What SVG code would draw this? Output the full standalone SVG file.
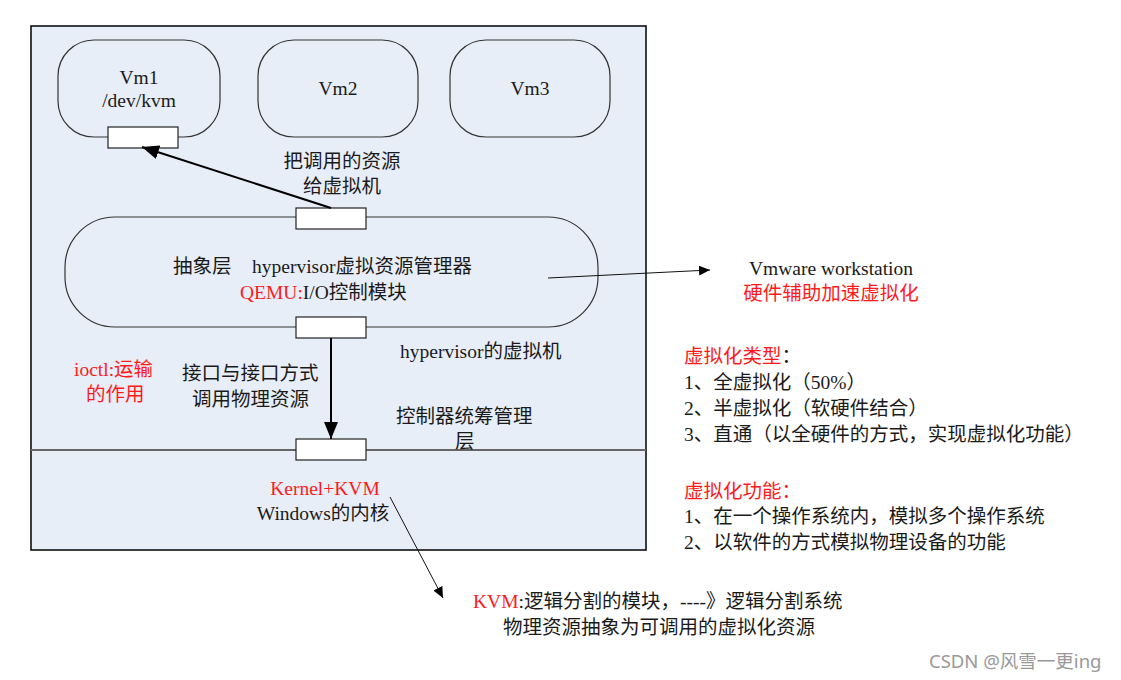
<svg xmlns="http://www.w3.org/2000/svg" width="1121" height="680" viewBox="0 0 1121 680">
<style>
.t{font-family:"Liberation Serif","Noto Sans CJK SC",serif;font-size:19.5px;fill:#1a1a1a}
.r{fill:#ff1a1a}
.node{fill:none;stroke:#333;stroke-width:1.2}
.port{fill:#fff;stroke:#222;stroke-width:1.2}
.thin{stroke:#111;stroke-width:1;fill:none}
.thick{stroke:#000;stroke-width:2;fill:none}
.wm{font-family:"Noto Sans","Noto Sans CJK SC",sans-serif;font-size:18.5px;fill:#999}
</style>
<defs>
<marker id="big" markerUnits="userSpaceOnUse" markerWidth="18" markerHeight="14" refX="17" refY="7" orient="auto"><path d="M0,0 L17,7 L0,14 z" fill="#000"/></marker>
<marker id="small" markerUnits="userSpaceOnUse" markerWidth="12" markerHeight="10" refX="11" refY="5" orient="auto"><path d="M0,0 L11,5 L0,10 z" fill="#000"/></marker>
</defs>
<rect width="1121" height="680" fill="#fff"/>
<g id="host">
<rect x="31" y="26" width="615" height="524" fill="#e8eef8" stroke="#000" stroke-width="1.5"/>
<line x1="31" y1="450" x2="646" y2="450" stroke="#666" stroke-width="2"/>
</g>
<g id="vm1">
<rect class="node" x="58" y="40" width="162" height="97" rx="36"/>
<text class="t" x="139" y="84" text-anchor="middle">Vm1</text>
<text class="t" x="139" y="107" text-anchor="middle">/dev/kvm</text>
<rect class="port" x="108" y="127" width="70" height="21"/>
</g>
<g id="vm2">
<rect class="node" x="258" y="40" width="160" height="97" rx="36"/>
<text class="t" x="338" y="95" text-anchor="middle">Vm2</text>
</g>
<g id="vm3">
<rect class="node" x="450" y="40" width="160" height="97" rx="36"/>
<text class="t" x="530" y="95" text-anchor="middle">Vm3</text>
</g>
<g id="hypervisor">
<rect class="node" x="65" y="217" width="533" height="110" rx="50"/>
<rect class="port" x="296" y="208" width="70" height="21"/>
<rect class="port" x="296" y="317" width="70" height="21"/>
<text class="t" x="173" y="273">抽象层</text>
<text class="t" x="252" y="273">hypervisor虚拟资源管理器</text>
<text class="t" x="240" y="299"><tspan class="r">QEMU:</tspan>I/O控制模块</text>
</g>
<g id="kernel">
<rect class="port" x="296" y="439" width="70" height="21"/>
<text class="t r" x="325" y="495" text-anchor="middle">Kernel+KVM</text>
<text class="t" x="323" y="520" text-anchor="middle">Windows的内核</text>
</g>
<g id="connectors">
<line class="thick" x1="331" y1="208" x2="142" y2="147" marker-end="url(#big)"/>
<line class="thick" x1="331" y1="338" x2="331" y2="439" marker-end="url(#big)"/>
<line class="thin" x1="548" y1="278" x2="710" y2="270" marker-end="url(#small)"/>
<line class="thin" x1="390" y1="497" x2="443" y2="598" marker-end="url(#small)"/>
</g>
<g id="labels">
<text class="t" x="342" y="168" text-anchor="middle">把调用的资源</text>
<text class="t" x="342" y="193" text-anchor="middle">给虚拟机</text>
<text class="t" x="400" y="358">hypervisor的虚拟机</text>
<text class="t r" x="74" y="376">ioctl:运输</text>
<text class="t r" x="86" y="401">的作用</text>
<text class="t" x="182" y="380">接口与接口方式</text>
<text class="t" x="192" y="406">调用物理资源</text>
<text class="t" x="396" y="423">控制器统筹管理</text>
<text class="t" x="455" y="448">层</text>
<text class="t" x="831" y="275" text-anchor="middle">Vmware workstation</text>
<text class="t r" x="831" y="300" text-anchor="middle">硬件辅助加速虚拟化</text>
<text class="t" x="684" y="363"><tspan class="r">虚拟化类型</tspan>：</text>
<text class="t" x="684" y="389">1、全虚拟化（50%）</text>
<text class="t" x="684" y="415">2、半虚拟化（软硬件结合）</text>
<text class="t" x="684" y="441">3、直通（以全硬件的方式，实现虚拟化功能）</text>
<text class="t" x="684" y="498"><tspan class="r">虚拟化功能：</tspan></text>
<text class="t" x="684" y="523">1、在一个操作系统内，模拟多个操作系统</text>
<text class="t" x="684" y="549">2、以软件的方式模拟物理设备的功能</text>
<text class="t" x="473" y="608"><tspan class="r">KVM</tspan>:逻辑分割的模块，----》逻辑分割系统</text>
<text class="t" x="503" y="634">物理资源抽象为可调用的虚拟化资源</text>
<text class="wm" x="929" y="668">CSDN @风雪一更ing</text>
</g>
</svg>
